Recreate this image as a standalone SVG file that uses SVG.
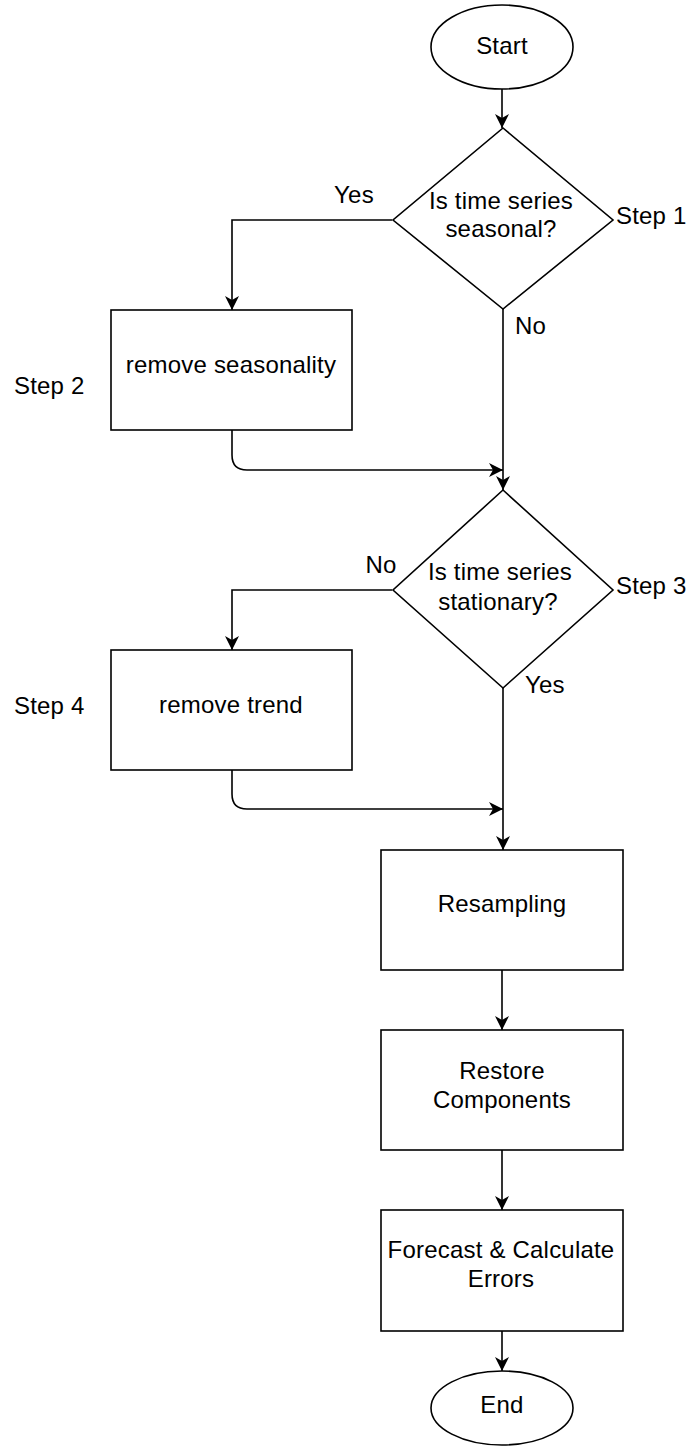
<svg xmlns="http://www.w3.org/2000/svg" width="689" height="1450" viewBox="0 0 689 1450">
<style>
.s{fill:#fff;stroke:#000;stroke-width:1.6}
.e{fill:none;stroke:#000;stroke-width:1.6}
text{font-family:"Liberation Sans",Arial,sans-serif;font-size:24px;letter-spacing:0.2px;fill:#000}
.c{text-anchor:middle}
</style>
<defs>
<marker id="arr" viewBox="0 0 14 14" refX="14" refY="7" markerWidth="14" markerHeight="14" markerUnits="userSpaceOnUse" orient="auto">
<path d="M0,0 L14,7 L0,14 L4,7 Z" fill="#000"/>
</marker>
</defs>
<rect width="689" height="1450" fill="#fff"/>
<g id="connectors">
<path class="e" d="M502,89 L502,128" marker-end="url(#arr)"/>
<path class="e" d="M392,220 L232,220 L232,310" marker-end="url(#arr)"/>
<path class="e" d="M503,309 L503,490" marker-end="url(#arr)"/>
<path class="e" d="M232,430 L232,455 Q232,470 247,470 L503,470" marker-end="url(#arr)"/>
<path class="e" d="M392,590 L232,590 L232,650" marker-end="url(#arr)"/>
<path class="e" d="M503,688 L503,850" marker-end="url(#arr)"/>
<path class="e" d="M232,770 L232,794 Q232,809 247,809 L503,809" marker-end="url(#arr)"/>
<path class="e" d="M502,970 L502,1030" marker-end="url(#arr)"/>
<path class="e" d="M502,1150 L502,1210" marker-end="url(#arr)"/>
<path class="e" d="M502,1331 L502,1371" marker-end="url(#arr)"/>
<text x="354" y="203" class="c">Yes</text>
<text x="515" y="334">No</text>
<text x="381" y="573" class="c">No</text>
<text x="525" y="693">Yes</text>
</g>
<g id="start">
<ellipse class="s" cx="502" cy="47" rx="71" ry="42"/>
<text x="502" y="54" class="c">Start</text>
</g>
<g id="decision1">
<polygon class="s" points="503,128 613,220 503,309 393,220"/>
<text x="501" y="209" class="c">Is time series</text>
<text x="501" y="237" class="c">seasonal?</text>
</g>
<g id="step1"><text x="616" y="224">Step 1</text></g>
<g id="removeSeasonality">
<rect class="s" x="111" y="310" width="241" height="120"/>
<text x="231" y="373" class="c">remove seasonality</text>
</g>
<g id="step2"><text x="14" y="394">Step 2</text></g>
<g id="decision2">
<polygon class="s" points="503,490 613,590 503,688 393,590"/>
<text x="500" y="580" class="c">Is time series</text>
<text x="498" y="610" class="c">stationary?</text>
</g>
<g id="step3"><text x="616" y="594">Step 3</text></g>
<g id="removeTrend">
<rect class="s" x="111" y="650" width="241" height="120"/>
<text x="231" y="713" class="c">remove trend</text>
</g>
<g id="step4"><text x="14" y="714">Step 4</text></g>
<g id="resampling">
<rect class="s" x="381" y="850" width="242" height="120"/>
<text x="502" y="912" class="c">Resampling</text>
</g>
<g id="restore">
<rect class="s" x="381" y="1030" width="242" height="120"/>
<text x="502" y="1079" class="c">Restore</text>
<text x="502" y="1108" class="c">Components</text>
</g>
<g id="forecast">
<rect class="s" x="381" y="1210" width="242" height="121"/>
<text x="501" y="1258" class="c">Forecast &amp; Calculate</text>
<text x="501" y="1287" class="c">Errors</text>
</g>
<g id="end">
<ellipse class="s" cx="502" cy="1408" rx="71" ry="37"/>
<text x="502" y="1413" class="c">End</text>
</g>
</svg>
